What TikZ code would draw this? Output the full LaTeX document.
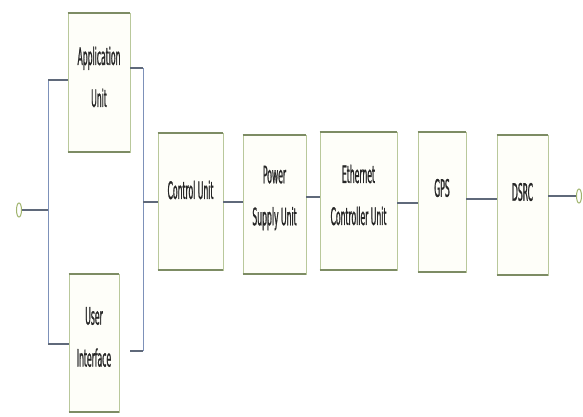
\documentclass[tikz,border=0pt]{standalone}
\usepackage{fontspec}
\usetikzlibrary{shapes.geometric}
\newfontfamily\lblfont[FakeStretch=0.32,FakeBold=0.8]{DejaVu Sans}
\definecolor{boxfill}{RGB}{254,254,249}
\definecolor{boxside}{RGB}{185,200,155}
\definecolor{boxedge}{RGB}{125,140,100}
\definecolor{wire}{RGB}{95,105,122}
\definecolor{bus}{RGB}{125,145,185}
\definecolor{term}{RGB}{160,180,110}
\begin{document}
\begin{tikzpicture}[x=1pt,y=1pt,
  blk/.style={draw=boxside,line width=0.8pt,fill=boxfill,inner sep=0pt},
  lbl/.style={align=center,inner sep=0pt,text=black!85,font=\lblfont\fontsize{24}{42}\selectfont},
  wirel/.style={draw=wire,line width=2pt},
  busl/.style={draw=bus,line width=1pt},
  edge/.style={draw=boxedge,line width=2pt},
  termc/.style={draw=term,line width=1pt,fill=white,ellipse,minimum width=5pt,minimum height=14pt,inner sep=0pt}]
\useasboundingbox[fill=white] (0,0) rectangle (583,-416);
% boxes
\node[blk,minimum width=62pt,minimum height=139pt] (app) at (99,-82.5) {};
\node[blk,minimum width=50pt,minimum height=138pt] (ui) at (94,-343) {};
\node[blk,minimum width=65pt,minimum height=137pt] (cu) at (190.5,-201.5) {};
\node[blk,minimum width=63pt,minimum height=139pt] (ps) at (274.5,-204.5) {};
\node[blk,minimum width=77pt,minimum height=138pt] (eth) at (358.5,-201) {};
\node[blk,minimum width=48pt,minimum height=140pt] (gps) at (442,-202) {};
\node[blk,minimum width=51pt,minimum height=140pt] (dsrc) at (522.5,-205) {};
\foreach \n in {app,ui,cu,ps,eth,gps,dsrc}{
  \draw[edge] (\n.north west) -- (\n.north east);
  \draw[edge] (\n.south west) -- (\n.south east);
}
% labels
\node[lbl] (appt) at (99,-77) {Application\\Unit};
\node[lbl] (uit) at (94,-337) {User\\Interface};
\node[lbl] (cut) at (190.5,-190) {Control Unit};
\node[lbl] (pst) at (274.5,-198) {Power\\Supply Unit};
\node[lbl] (etht) at (358.5,-195) {Ethernet\\Controller Unit};
\node[lbl] (gpst) at (442,-188) {GPS};
\node[lbl] (dsrct) at (522.5,-192) {DSRC};
% terminals
\node[termc] (inp) at (19,-210) {};
\node[termc] (outp) at (579,-196) {};
% left fork
\coordinate (lm) at (48,-210);
\coordinate (la) at (48,-80);
\coordinate (lb) at (48,-344);
\draw[busl] (la) -- (lb);
\draw[wirel] (inp.east) -- (lm);
\draw[wirel] (la) -- (la -| app.west);
\draw[wirel] (lb) -- (lb -| ui.west);
% right join
\coordinate (ra) at (143,-68);
\coordinate (rb) at (143,-351);
\coordinate (rm) at (143,-202);
\coordinate (rbs) at (130,-351);
\draw[busl] (ra) -- (rb);
\draw[wirel] (app.east |- ra) -- (ra);
\draw[wirel] (rbs) -- (rb);
\draw[wirel] (rm) -- (rm -| cu.west);
% chain
\coordinate (c1) at (0,-202);
\draw[wirel] (cu.east |- c1) -- (ps.west |- c1);
\coordinate (c2) at (0,-197);
\draw[wirel] (ps.east |- c2) -- (eth.west |- c2);
\coordinate (c3) at (0,-203);
\draw[wirel] (eth.east |- c3) -- (gps.west |- c3);
\coordinate (c4) at (0,-199);
\draw[wirel] (gps.east |- c4) -- (dsrc.west |- c4);
\draw[wirel] (dsrc.east |- outp) -- (outp.west);
\end{tikzpicture}
\end{document}
